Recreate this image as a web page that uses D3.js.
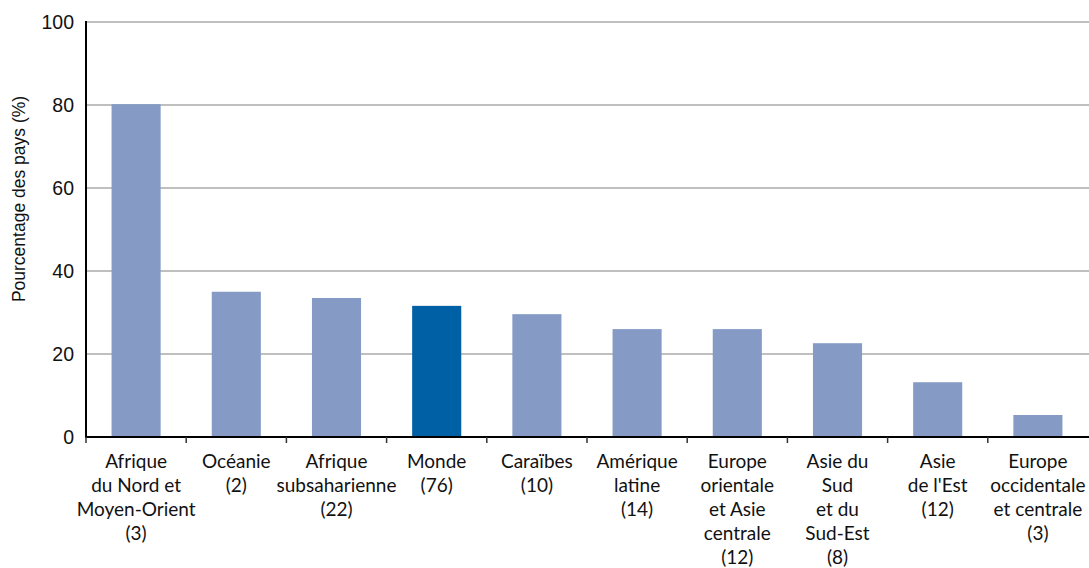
<!DOCTYPE html>
<html>
<head>
<meta charset="utf-8">
<script src="https://cdn.jsdelivr.net/npm/d3@7/dist/d3.min.js"></script>
<style>
  html, body { margin: 0; padding: 0; background: #fff; }
  svg text { fill: #111; }
  .cat { font-family: Lato, "Open Sans", sans-serif; }
  .num { font-family: "Liberation Sans", Arial, sans-serif; }
</style>
</head>
<body>
<svg id="chart" width="1089" height="568"></svg>
<script>
// Regions (line-broken labels) and share of countries, in percent
const categories = [
  ["Afrique", "du Nord et", "Moyen-Orient", "(3)"],
  ["Océanie", "(2)"],
  ["Afrique", "subsaharienne", "(22)"],
  ["Monde", "(76)"],
  ["Caraïbes", "(10)"],
  ["Amérique", "latine", "(14)"],
  ["Europe", "orientale", "et Asie", "centrale", "(12)"],
  ["Asie du", "Sud", "et du", "Sud-Est", "(8)"],
  ["Asie", "de l'Est", "(12)"],
  ["Europe", "occidentale", "et centrale", "(3)"]
];
const values = [80.2, 35, 33.5, 31.6, 29.6, 26, 26, 22.6, 13.2, 5.3];
const highlighted = ["Monde"];
const yTicks = [0, 20, 40, 60, 80, 100];
const yTitle = "Pourcentage des pays (%)";

const svg = d3.select("#chart");
const margin = { top: 22, right: 1, bottom: 131, left: 86 };
const W = 1089, H = 568;

const keys = categories.map(c => c[0] + " " + c.slice(1).join(" "));
const x = d3.scaleBand().domain(keys).range([margin.left, W - margin.right])
  .paddingInner(0.51).paddingOuter(0.255);
const y = d3.scaleLinear().domain([0, 100]).range([H - margin.bottom, margin.top]);

// horizontal gridlines
svg.append("g").selectAll("line").data(yTicks.filter(t => t > 0)).join("line")
  .attr("x1", margin.left).attr("x2", W)
  .attr("y1", d => y(d)).attr("y2", d => y(d))
  .attr("stroke", "#aaaaaa").attr("stroke-width", 1.5);

// bars
svg.append("g").selectAll("rect").data(values).join("rect")
  .attr("x", (d, i) => x(keys[i]))
  .attr("width", x.bandwidth())
  .attr("y", d => y(d))
  .attr("height", d => y(0) - y(d))
  .attr("fill", (d, i) => highlighted.includes(categories[i][0]) ? "#0060a5" : "#859bc6");

// y axis labels
const yAxis = d3.axisLeft(y).tickValues(yTicks).tickSize(0).tickPadding(12);
const gy = svg.append("g").attr("transform", `translate(${margin.left},0)`).call(yAxis);
gy.select(".domain").remove();
gy.selectAll("text").attr("class", "num").attr("font-size", 19.5).attr("fill", "#111");

// axis lines
svg.append("line").attr("x1", margin.left).attr("x2", margin.left)
  .attr("y1", margin.top - 1).attr("y2", y(0) + 1)
  .attr("stroke", "#000").attr("stroke-width", 2);
svg.append("line").attr("x1", margin.left - 1).attr("x2", W)
  .attr("y1", y(0)).attr("y2", y(0))
  .attr("stroke", "#000").attr("stroke-width", 2);

// category boundary ticks
const step = x.step();
const boundaries = d3.range(keys.length).map(i => margin.left + i * step);
svg.append("g").selectAll("line").data(boundaries).join("line")
  .attr("x1", d => d).attr("x2", d => d)
  .attr("y1", y(0)).attr("y2", y(0) + 6)
  .attr("stroke", "#333").attr("stroke-width", 1.5);

// multi-line category labels
const lab = svg.append("g").selectAll("text").data(categories).join("text")
  .attr("class", "cat")
  .attr("text-anchor", "middle")
  .attr("font-size", 19)
  .attr("transform", (d, i) => `translate(${x(keys[i]) + x.bandwidth() / 2},${y(0) + 30.5})`);
lab.selectAll("tspan").data(d => d).join("tspan")
  .attr("x", 0).attr("dy", (d, j) => j === 0 ? 0 : 24)
  .text(d => d);

// y axis title
svg.append("text")
  .attr("class", "num")
  .attr("transform", `translate(25,199) rotate(-90)`)
  .attr("text-anchor", "middle")
  .attr("font-size", 17.5)
  .text(yTitle);
</script>
</body>
</html>
